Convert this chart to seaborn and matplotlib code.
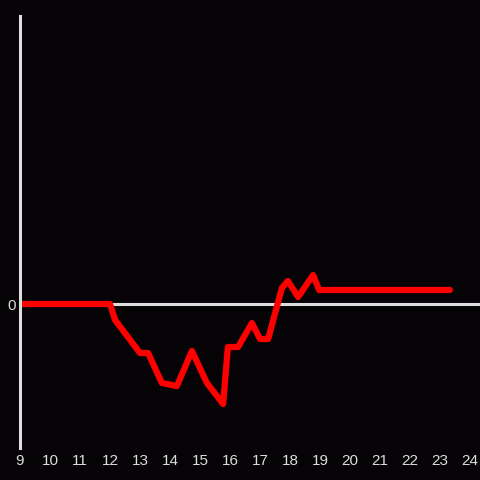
import matplotlib
matplotlib.use("Agg")
import matplotlib.pyplot as plt
import seaborn as sns
import pandas as pd

hours = [9.0, 12.0, 12.17, 13.0, 13.27, 13.73, 14.23, 14.73, 15.23, 15.77, 15.93,
         16.27, 16.73, 17.0, 17.27, 17.73, 17.93, 18.27, 18.77, 18.97, 23.33]
values = [0.0, 0.0, -1.6, -4.9, -4.9, -7.9, -8.2, -4.7, -7.9, -10.0, -4.3,
          -4.3, -1.9, -3.5, -3.5, 1.6, 2.3, 0.7, 2.9, 1.4, 1.4]
xticks = list(range(9, 25))

df = pd.DataFrame({"hour": hours, "value": values})

sns.set_style("dark")
plt.rcParams["font.family"] = ["Liberation Sans", "DejaVu Sans"]

bg = "#050305"
fg = "#dddddd"

fig = plt.figure(figsize=(4.8, 4.8), dpi=100, facecolor=bg)
ax = fig.add_axes([20 / 480, 32 / 480, 460 / 480, 432 / 480])
ax.set_facecolor(bg)

ax.axhline(0, color=fg, lw=2.2, zorder=1)
sns.lineplot(df, x="hour", y="value", color="#ff0000", lw=4.5, ax=ax, zorder=3)

ax.set_xlim(9, 24.333)
ax.set_ylim(-14.4, 28.8)
ax.set_xticks(xticks)
ax.set_yticks([0])
ax.grid(False)
ax.tick_params(axis="both", length=0, colors=fg, labelsize=11)
ax.tick_params(axis="x", pad=4)
ax.tick_params(axis="y", pad=3)
ax.set_xlabel("")
ax.set_ylabel("")

for side in ["top", "right", "bottom"]:
    ax.spines[side].set_visible(False)
ax.spines["left"].set_color(fg)
ax.spines["left"].set_linewidth(2.2)
ax.spines["left"].set_zorder(4)

fig.savefig("out.png", dpi=100, facecolor=bg)
